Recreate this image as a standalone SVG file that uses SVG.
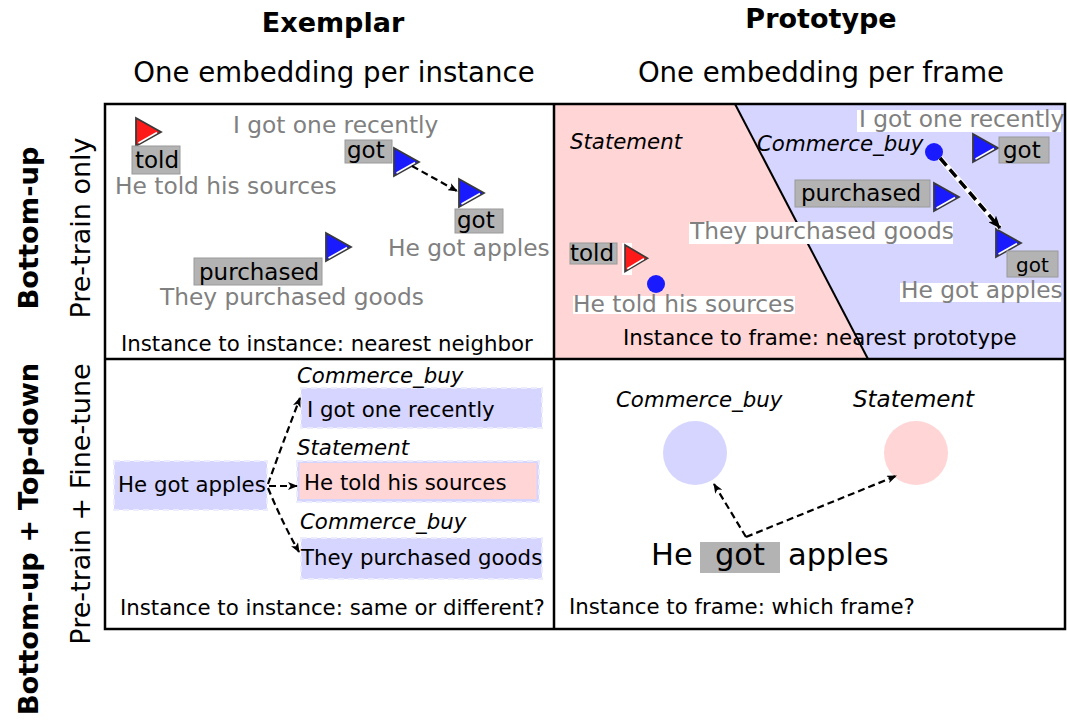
<svg xmlns="http://www.w3.org/2000/svg" xmlns:xlink="http://www.w3.org/1999/xlink" width="1067" height="720" viewBox="0 0 1067 720">
  <style>
    text { font-family: "DejaVu Sans", "Liberation Sans", sans-serif; }
    .hdr { font-size: 27px; font-weight: bold; text-anchor: middle; fill: #000; }
    .sub { font-size: 27.6px; text-anchor: middle; fill: #000; }
    .side { font-size: 27px; text-anchor: middle; fill: #000; }
    .sideb { font-size: 27.3px; font-weight: bold; text-anchor: middle; fill: #000; }
    .sent { font-size: 23.3px; fill: #808080; }
    .word { font-size: 23px; fill: #000; }
    .cap { font-size: 21.3px; fill: #000; }
    .frame { font-size: 21.3px; font-style: italic; fill: #000; }
    .wbox { fill: #b3b3b3; stroke: #9a9a9a; stroke-width: 1; }
    .bg { fill: #fff; }
    .blue { fill: #1a1aff; }
    .red { fill: #ff1a1a; }
    .ibox { fill: #d5d5ff; stroke: #ececff; stroke-width: 2; stroke-dasharray: 6 4; }
    .grid { fill: none; stroke: #000; stroke-width: 2.5; }
    .dash { fill: none; stroke: #000; stroke-width: 2.2; stroke-dasharray: 7 4; }
  </style>
  <defs>
    <g id="tri">
      <polygon points="0,0 0,28 25,14" stroke="#3a3a3a" stroke-width="1.8" stroke-linejoin="miter"/>
      <line x1="2.5" y1="25" x2="21" y2="14.5" stroke="#fff" stroke-width="1.6"/>
    </g>
    <marker id="ah" markerWidth="10" markerHeight="8" refX="9" refY="4" orient="auto" markerUnits="userSpaceOnUse">
      <path d="M0,0 L10,4 L0,8 L2.5,4 z" fill="#000"/>
    </marker>
    <marker id="ahb" markerWidth="14" markerHeight="10" refX="12" refY="5" orient="auto" markerUnits="userSpaceOnUse">
      <path d="M0,0 L13,5 L0,10 L3,5 z" fill="#000"/>
    </marker>
  </defs>

  <rect width="1067" height="720" fill="#fff"/>

  <!-- column and row headings -->
  <g id="headings">
    <text class="hdr" x="333" y="32">Exemplar</text>
    <text class="hdr" x="821" y="28">Prototype</text>
    <text class="sub" x="334" y="82">One embedding per instance</text>
    <text class="sub" x="821" y="82">One embedding per frame</text>
    <text class="sideb" transform="translate(38,228) rotate(-90)">Bottom-up</text>
    <text class="side" transform="translate(90,228) rotate(-90)">Pre-train only</text>
    <text class="sideb" transform="translate(38,539) rotate(-90)">Bottom-up + Top-down</text>
    <text class="side" transform="translate(90,504) rotate(-90)">Pre-train + Fine-tune</text>
  </g>

  <!-- prototype quadrant: frame regions -->
  <g id="regions">
    <polygon points="554,104 735,104 868,359 554,359" fill="#ffd5d5"/>
    <polygon points="735,104 1065,104 1065,359 868,359" fill="#d5d5ff"/>
    <line x1="735" y1="104" x2="868" y2="359" stroke="#000" stroke-width="2"/>
  </g>

  <!-- exemplar, pre-train only -->
  <g id="ex-top">
    <text class="sent" x="233" y="133">I got one recently</text>
    <use href="#tri" x="136" y="118" class="red"/>
    <rect class="wbox" x="132" y="146" width="48" height="28"/>
    <text class="word" x="135" y="168">told</text>
    <text class="sent" x="115" y="194">He told his sources</text>
    <rect class="wbox" x="345" y="140" width="47" height="23"/>
    <text class="word" x="347" y="158">got</text>
    <use href="#tri" x="394" y="148" class="blue"/>
    <use href="#tri" x="459" y="179" class="blue"/>
    <rect class="wbox" x="455" y="209" width="48" height="24"/>
    <text class="word" x="457" y="228">got</text>
    <text class="sent" x="388" y="256">He got apples</text>
    <use href="#tri" x="326" y="233" class="blue"/>
    <rect class="wbox" x="194" y="258" width="128" height="27"/>
    <text class="word" x="199" y="280">purchased</text>
    <text class="sent" x="160" y="305">They purchased goods</text>
    <text class="cap" x="121" y="351">Instance to instance: nearest neighbor</text>
  </g>

  <!-- prototype, pre-train only -->
  <g id="pr-top">
    <text class="frame" x="570" y="149">Statement</text>
    <text class="frame" x="757" y="151">Commerce_buy</text>
    <circle class="blue" cx="934" cy="152" r="9"/>
    <rect class="bg" x="857" y="110" width="204" height="22"/>
    <text class="sent" x="859" y="127">I got one recently</text>
    <use href="#tri" x="973" y="134" class="blue"/>
    <rect class="wbox" x="999" y="137" width="50" height="26"/>
    <text class="word" x="1003" y="158">got</text>
    <rect class="wbox" x="795" y="180" width="135" height="27"/>
    <text class="word" x="801" y="201">purchased</text>
    <use href="#tri" x="934" y="183" class="blue"/>
    <rect class="bg" x="689" y="222" width="264" height="22"/>
    <text class="sent" x="690" y="239">They purchased goods</text>
    <use href="#tri" x="996" y="229" class="blue"/>
    <rect class="wbox" x="1007" y="251" width="51" height="26"/>
    <text class="word" x="1016" y="272" style="font-size:20px">got</text>
    <rect class="bg" x="900" y="283" width="161" height="19"/>
    <text class="sent" x="901" y="298">He got apples</text>
    <rect class="wbox" x="570" y="243" width="47" height="21"/>
    <text class="word" x="570" y="261">told</text>
    <rect class="bg" x="622" y="243" width="10" height="32"/>
    <use href="#tri" x="625" y="245" class="red" transform="translate(625,245) scale(0.9,0.95) translate(-625,-245)"/>
    <circle class="blue" cx="656" cy="284" r="9"/>
    <rect class="bg" x="573" y="296" width="222" height="18"/>
    <text class="sent" x="573" y="312">He told his sources</text>
    <text class="cap" x="623" y="345">Instance to frame: nearest prototype</text>
  </g>

  <!-- exemplar, pre-train + fine-tune -->
  <g id="ex-bottom">
    <rect class="ibox" x="301" y="388" width="241" height="40"/>
    <text class="frame" x="297" y="383">Commerce_buy</text>
    <text class="cap" x="307" y="417">I got one recently</text>
    <rect class="ibox" x="297" y="461" width="242" height="41"/>
    <rect x="299.5" y="463" width="237" height="36" fill="#ffd5d5"/>
    <text class="frame" x="297" y="455">Statement</text>
    <text class="cap" x="304" y="490">He told his sources</text>
    <rect class="ibox" x="301" y="538" width="241" height="41"/>
    <text class="frame" x="300" y="529">Commerce_buy</text>
    <text class="cap" x="301" y="565">They purchased goods</text>
    <rect class="ibox" x="114" y="461" width="153" height="49"/>
    <text class="cap" x="118" y="492">He got apples</text>
    <text class="cap" x="120" y="615">Instance to instance: same or different?</text>
  </g>

  <!-- prototype, pre-train + fine-tune -->
  <g id="pr-bottom">
    <text class="frame" x="616" y="407">Commerce_buy</text>
    <text class="frame" x="853" y="407" style="font-size:23px">Statement</text>
    <circle cx="695" cy="453" r="32" fill="#d5d5ff"/>
    <circle cx="916" cy="453" r="32" fill="#ffd5d5"/>
    <rect x="700" y="542" width="80" height="31" fill="#b3b3b3"/>
    <text x="651" y="565" style="font-size:30.5px">He</text>
    <text x="715" y="565" style="font-size:30.5px">got</text>
    <text x="788" y="565" style="font-size:30.5px">apples</text>
    <text class="cap" x="569" y="614">Instance to frame: which frame?</text>
  </g>

  <!-- connectors -->
  <g id="connectors">
    <line class="dash" x1="412" y1="166" x2="457" y2="191" stroke-width="2.5" marker-end="url(#ah)"/>
    <line x1="940" y1="158" x2="1000" y2="228" stroke="#fff" stroke-width="5.5"/>
    <line x1="940" y1="158" x2="1000" y2="228" stroke="#000" stroke-width="3.5" stroke-dasharray="10 5" marker-end="url(#ahb)"/>
    <path class="dash" d="M268,484 Q282,445 300,398" marker-end="url(#ah)"/>
    <line class="dash" x1="269" y1="486" x2="297" y2="486" marker-end="url(#ah)"/>
    <path class="dash" d="M268,488 Q282,522 299,552" marker-end="url(#ah)"/>
    <polyline class="dash" points="746,537 714,484" stroke-width="2.5" marker-end="url(#ah)"/>
    <polyline class="dash" points="746,537 896,476" stroke-width="2.5" marker-end="url(#ah)"/>
  </g>

  <!-- quadrant frame -->
  <g id="frame">
    <rect class="grid" x="105" y="104" width="960" height="525"/>
    <line class="grid" x1="554" y1="104" x2="554" y2="629"/>
    <line class="grid" x1="105" y1="359" x2="1065" y2="359"/>
  </g>
</svg>
